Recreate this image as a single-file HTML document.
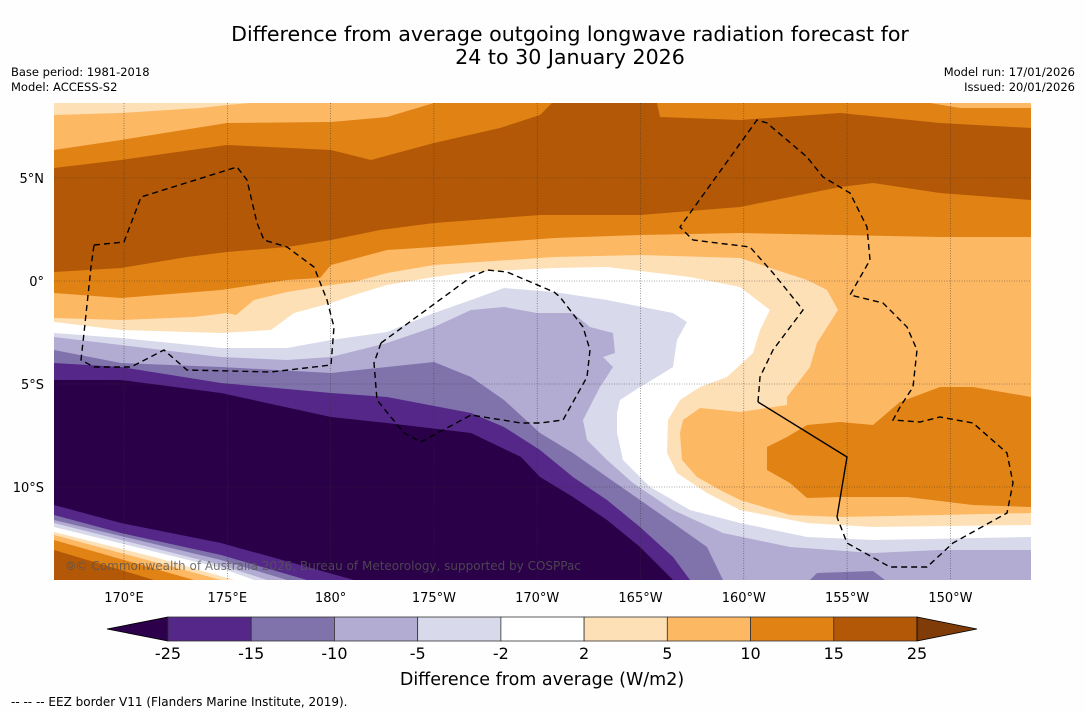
<!DOCTYPE html>
<html><head><meta charset="utf-8"><style>
body{margin:0;background:#fefefe;width:1085px;height:713px;overflow:hidden;font-family:"DejaVu Sans","Liberation Sans",sans-serif}
svg{position:absolute;left:0;top:0}
</style></head><body>
<svg id="fig" width="1085" height="713" viewBox="0 0 1085 713">
<rect x="0" y="0" width="1085" height="713" fill="#fefefe"/>
<text x="570" y="41" font-size="20.6" text-anchor="middle" fill="#000">Difference from average outgoing longwave radiation forecast for</text>
<text x="570" y="64" font-size="20.6" text-anchor="middle" fill="#000">24 to 30 January 2026</text>
<text x="11" y="76" font-size="11.5">Base period: 1981-2018</text>
<text x="11" y="91" font-size="11.5">Model: ACCESS-S2</text>
<text x="1075" y="76" font-size="11.5" text-anchor="end">Model run: 17/01/2026</text>
<text x="1075" y="91" font-size="11.5" text-anchor="end">Issued: 20/01/2026</text>

<defs><clipPath id="mapclip"><rect x="54" y="103" width="977" height="477"/></clipPath></defs>
<g clip-path="url(#mapclip)">
<rect x="54" y="103" width="977" height="477" fill="#fdb863"/>
<polygon fill="#fee0b6" points="54,318 121,320 194,317 227,313 236,315 254,300 287,292 331,285 354,282 387,273 434,265 554,257 640,255 740,258 807,280 827,290 838,310 817,343 810,367 787,397 787,405 740,412 700,408 683,420 680,433 682,460 697,477 720,490 740,500 790,515 840,517 940,515 1031,513 1031,580 221,580 54,535"/>
<polygon fill="#ffffff" points="54,322 121,330 221,333 271,330 294,313 331,303 354,295 387,285 434,277 471,272 554,268 607,267 690,277 740,287 757,300 770,310 760,330 753,353 727,377 700,387 680,400 668,420 667,453 677,473 707,493 740,510 807,523 873,527 1031,525 1031,580 234,580 154,557 54,532"/>
<polygon fill="#d8daeb" points="54,333 121,338 221,348 287,348 331,340 387,332 434,313 471,300 504,288 554,292 607,300 673,313 687,322 677,340 673,367 657,377 640,387 620,400 617,413 617,433 623,460 650,487 690,510 740,523 807,537 873,540 1031,537 1031,580 254,580 221,568 54,527"/>
<polygon fill="#b2abd2" points="54,337 121,345 221,357 287,360 331,357 387,343 434,327 471,310 504,307 537,313 573,313 590,327 613,333 615,353 603,357 613,367 600,387 583,420 587,440 607,460 633,483 673,510 723,533 790,547 873,553 940,550 1031,550 1031,580 267,580 221,565 54,523"/>
<polygon fill="#8073ac" points="54,350 121,363 221,367 331,373 387,367 434,362 471,377 504,400 540,433 573,453 607,477 640,500 673,523 707,547 723,580 287,580 221,560 54,520"/>
<polygon fill="#8073ac" points="817,573 873,571 885,580 810,580"/>
<polygon fill="#542788" points="54,363 121,367 221,383 331,393 387,397 471,413 504,427 540,450 573,477 607,500 640,527 673,557 690,580 307,580 221,555 121,533 54,515"/>
<polygon fill="#2a0048" points="54,380 121,380 221,393 331,417 387,423 471,433 521,457 540,477 573,497 607,520 640,547 673,580 354,580 221,543 121,523 54,505"/>
<polygon fill="#fdb863" points="54,535 221,580 54,580"/>
<polygon fill="#e08214" points="54,540 194,580 54,580"/>
<polygon fill="#b35806" points="54,550 121,570 154,580 54,580"/>
<polygon fill="#e08214" points="54,150 121,140 227,123 331,122 387,117 434,103 930,103 960,108 1031,108 1031,237 940,237 840,235 740,233 640,235 554,238 434,247 387,250 331,265 320,278 287,280 221,290 121,298 54,293"/>
<polygon fill="#b35806" points="54,168 121,160 227,145 331,150 371,160 434,143 500,128 540,115 552,103 657,103 660,117 740,120 840,113 940,123 1031,128 1031,200 940,193 873,183 840,187 740,207 640,215 540,215 434,223 380,230 331,240 287,247 227,252 187,257 121,268 54,272"/>
<polygon fill="#fee0b6" points="54,103 250,103 227,105 200,108 121,113 54,115"/>
<polygon fill="#e08214" points="767,447 787,437 807,425 840,422 873,425 900,402 940,387 973,387 1031,397 1031,507 973,505 907,497 840,497 807,498 790,483 767,470"/>
<g id="grid" stroke="#333" stroke-width="0.6" stroke-dasharray="1,1.5" opacity="0.8"></g>
<g fill="none" stroke="#000" stroke-width="1.4" stroke-dasharray="6,4">
<polygon points="94,245 124,242 141,197 237,167 247,180 257,223 264,240 287,247 314,267 327,300 334,327 331,365 271,372 187,370 164,350 131,367 94,367 81,360 84,333 91,267"/>
<polygon points="381,343 471,277 487,270 507,272 554,292 560,297 583,327 590,350 587,377 563,420 540,423 521,423 471,415 421,442 404,433 377,400 374,363"/>
<polyline points="758,402 760,377 773,350 803,310 773,273 750,247 693,240 680,227 757,120 767,123 807,157 823,177 850,193 867,227 870,260 850,295 883,303 907,327 917,350 913,387 900,407 893,420 920,422 940,417 973,423 1007,453 1013,483 1007,513 953,543 927,567 890,567 847,543 837,517"/>
<polyline stroke-dasharray="none" points="758,402 847,457 837,517"/>
</g>
<text x="66" y="570" font-size="12" fill="#555" opacity="0.8">⦾© Commonwealth of Australia 2026, Bureau of Meteorology, supported by COSPPac</text>
</g>
<g id="axes" font-size="13" fill="#000"></g>
<g id="cbar"></g>
<text x="542" y="685" font-size="17.5" text-anchor="middle">Difference from average (W/m2)</text>
<text x="11" y="706" font-size="12">--  --  -- EEZ border V11 (Flanders Marine Institute, 2019).</text>
</svg>
<script>
const lonLabels = ["170°E","175°E","180°","175°W","170°W","165°W","160°W","155°W","150°W"];
const lonValues = [170,175,180,185,190,195,200,205,210];
const latLabels = ["5°N","0°","5°S","10°S"];
const latValues = [5,0,-5,-10];
const levels = [-25,-15,-10,-5,-2,2,5,10,15,25];
const bandColors = ["#542788","#8073ac","#b2abd2","#d8daeb","#ffffff","#fee0b6","#fdb863","#e08214","#b35806"];
const underColor = "#2d004b";
const overColor = "#7f3b08";

const NS="http://www.w3.org/2000/svg";
function xLon(l){return 124+(l-170)*20.66;}
function yLat(l){return 281-l*20.6;}
function mk(tag,attrs,parent){const e=document.createElementNS(NS,tag);for(const k in attrs)e.setAttribute(k,attrs[k]);parent.appendChild(e);return e;}
const grid=document.getElementById('grid'),axes=document.getElementById('axes'),cbar=document.getElementById('cbar');
lonValues.forEach((v,i)=>{
  const x=xLon(v);
  const g=mk('line',{x1:x,x2:x,y1:103,y2:580},grid);
  
  
  const t=mk('text',{x:x,y:602,'text-anchor':'middle'},axes);t.textContent=lonLabels[i];
  
  
});
latValues.forEach((v,i)=>{
  const y=yLat(v);
  const g=mk('line',{x1:54,x2:1031,y1:y,y2:y},grid);
  
  
  const t=mk('text',{x:44,y:y+5,'text-anchor':'end'},axes);t.textContent=latLabels[i];
  
  
});
const cx0=168,cx1=917,cy0=617,cy1=641;
function cbX(i){return cx0+(cx1-cx0)*i/(levels.length-1);}
const tri1=mk('polygon',{points:`${cx0},${cy0} ${cx0},${cy1} 107,${(cy0+cy1)/2}`,fill:underColor,stroke:'#000','stroke-width':0.8},cbar);


bandColors.forEach((c,i)=>{
  const r=mk('rect',{x:cbX(i),y:cy0,width:cbX(i+1)-cbX(i),height:cy1-cy0,fill:c,stroke:'#333','stroke-width':0.8},cbar);
  
  
});
const tri2=mk('polygon',{points:`${cx1},${cy0} ${cx1},${cy1} 977,${(cy0+cy1)/2}`,fill:overColor,stroke:'#000','stroke-width':0.8},cbar);


levels.forEach((v,i)=>{
  const t=mk('text',{x:cbX(i),y:659,'text-anchor':'middle','font-size':16},cbar);t.textContent=v;
  
  
});
</script>
</body></html>
